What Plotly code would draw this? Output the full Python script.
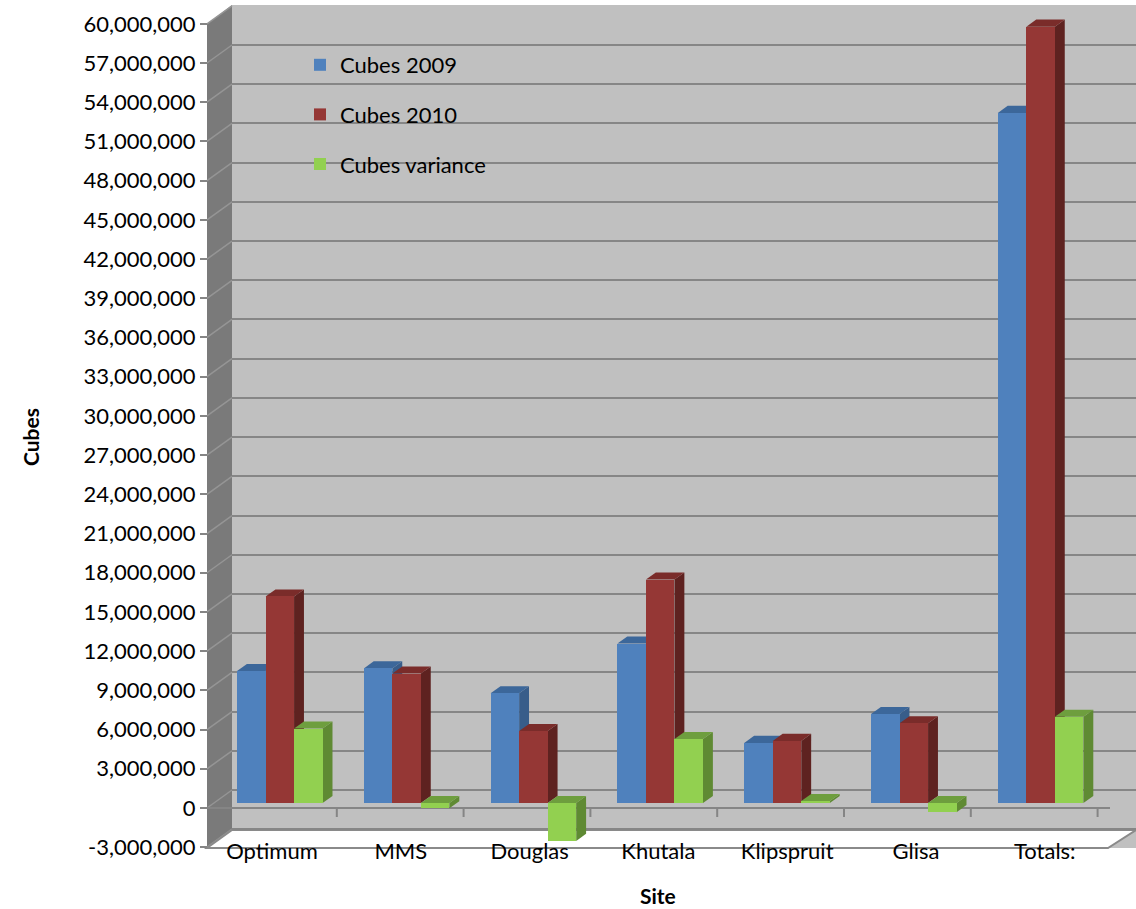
import plotly.graph_objects as go

# ---------------- data ----------------
sites = ["Optimum", "MMS", "Douglas", "Khutala", "Klipspruit", "Glisa", "Totals:"]
cubes_2009 = [10.1e6, 10.3e6, 8.4e6, 12.2e6, 4.6e6, 6.8e6, 52.8e6]
cubes_2010 = [15.8e6, 9.9e6, 5.5e6, 17.1e6, 4.75e6, 6.1e6, 59.4e6]
cubes_variance = [5.7e6, -0.4e6, -2.9e6, 4.9e6, 0.15e6, -0.7e6, 6.6e6]
y_ticks = list(range(-3_000_000, 60_000_001, 3_000_000))
y_tick_text = [f"{v:,}" for v in y_ticks]

# ---------------- geometry / style ----------------
W, H = 1136, 909
FONT = "Lato"
PX_PER_UNIT_Y = 13.07 / 1e6      # pixels per cube
PLOT_L, PLOT_R, PLOT_T, PLOT_B = 232, 1136, 5, 848
WALL_FRONT_X = 207
ZERO_FRONT, ZERO_BARS, ZERO_BACK = 808, 803, 790
CAT_X0, CAT_UNIT = 210, 126.8     # px of category boundary -0.5, px per category
LBL_X0, LBL_UNIT = 272, 128.8     # label centres
BAR_W = 0.225
OFFSETS = [-0.287, -0.062, 0.163]
DX, DY = 0.078, 0.54e6

series = [
    ("Cubes 2009", cubes_2009, "#4F81BD", "#385D8A", "#3C679A"),
    ("Cubes 2010", cubes_2010, "#953735", "#5E2220", "#7A2C2A"),
    ("Cubes variance", cubes_variance, "#92D050", "#5F8A33", "#6E9E3E"),
]

def px(x):
    return x / W

def py(y):
    return 1 - y / H

def yrange(zero_px):
    return [-(PLOT_B - zero_px) / PX_PER_UNIT_Y, (zero_px - PLOT_T) / PX_PER_UNIT_Y]

def xrange(x0, unit, zero_at):
    return [zero_at + (PLOT_L - x0) / unit, zero_at + (PLOT_R - x0) / unit]

fig = go.Figure()

shapes = []
# back wall
shapes.append(dict(type="rect", xref="paper", yref="paper", layer="below",
                   x0=px(PLOT_L), x1=px(PLOT_R), y0=py(PLOT_B), y1=py(PLOT_T),
                   fillcolor="#C0C0C0", line=dict(width=0)))
# left wall
shapes.append(dict(type="path", xref="paper", yref="paper", layer="below",
                   path=f"M{px(WALL_FRONT_X)},{py(24)} L{px(PLOT_L)},{py(PLOT_T)} "
                        f"L{px(PLOT_L)},{py(830)} L{px(WALL_FRONT_X)},{py(PLOT_B)} Z",
                   fillcolor="#7A7A7A", line=dict(width=0)))
# slanted grid lines on the left wall
for v in y_ticks:
    yf = ZERO_FRONT - v * PX_PER_UNIT_Y
    yb = ZERO_BACK - v * PX_PER_UNIT_Y
    shapes.append(dict(type="line", xref="paper", yref="paper", layer="below",
                       x0=px(WALL_FRONT_X), y0=py(yf), x1=px(PLOT_L), y1=py(yb),
                       line=dict(color="#959595", width=1.5)))
# floor
shapes.append(dict(type="path", xref="paper", yref="paper", layer="below",
                   path=f"M{px(WALL_FRONT_X)},{py(PLOT_B)} L{px(PLOT_L)},{py(830)} "
                        f"L{px(1136)},{py(830)} L{px(1108)},{py(PLOT_B)} Z",
                   fillcolor="#FFFFFF", line=dict(color="#8A8A8A", width=2)))
# front zero line
shapes.append(dict(type="line", xref="paper", yref="paper", layer="below",
                   x0=px(200), x1=px(1110), y0=py(ZERO_FRONT), y1=py(ZERO_FRONT),
                   line=dict(color="#858585", width=2)))
# category boundary ticks
for i in range(len(sites)):
    shapes.append(dict(type="line", xref="x", yref="paper", layer="below",
                       x0=i + 0.5, x1=i + 0.5, y0=py(ZERO_FRONT), y1=py(817),
                       line=dict(color="#858585", width=2)))

# 3D depth faces (side + top) for every bar
for k, (name, vals, front, side, top) in enumerate(series):
    for i, v in enumerate(vals):
        xl = i + OFFSETS[k]
        xr = xl + BAR_W
        t = max(v, 0)
        shapes.append(dict(type="path", xref="x", yref="y", layer="between",
                           path=f"M{xr},0 L{xr + DX},{DY} L{xr + DX},{v + DY} L{xr},{v} Z",
                           fillcolor=side, line=dict(width=0)))
        shapes.append(dict(type="path", xref="x", yref="y", layer="between",
                           path=f"M{xl},{t} L{xl + DX},{t + DY} L{xr + DX},{t + DY} L{xr},{t} Z",
                           fillcolor=top, line=dict(width=0)))

# front faces
for k, (name, vals, front, side, top) in enumerate(series):
    fig.add_trace(go.Bar(
        name=name, x=list(range(len(sites))), y=vals,
        offset=OFFSETS[k], width=BAR_W,
        marker=dict(color=front, line=dict(width=0)),
        legendgroup=name, hovertext=sites, hoverinfo="text+y",
    ))

# helper traces so that the overlay axes are drawn
fig.add_trace(go.Scatter(x=[None], y=[None], xaxis="x", yaxis="y2", showlegend=False, hoverinfo="skip"))
fig.add_trace(go.Scatter(x=[None], y=[None], xaxis="x", yaxis="y3", showlegend=False, hoverinfo="skip"))
fig.add_trace(go.Scatter(x=[None], y=[None], xaxis="x2", yaxis="y", showlegend=False, hoverinfo="skip"))

dom_x = [px(PLOT_L), 1]
dom_y = [py(PLOT_B), py(PLOT_T)]

fig.update_layout(
    width=W, height=H,
    autosize=False,
    margin=dict(l=0, r=0, t=0, b=0, pad=0, autoexpand=False),
    paper_bgcolor="white",
    plot_bgcolor="rgba(0,0,0,0)",
    font=dict(family=FONT, size=22, color="black"),
    barmode="overlay",
    bargap=0,
    shapes=shapes,
    xaxis=dict(domain=dom_x, range=xrange(CAT_X0, CAT_UNIT, -0.5), showgrid=False,
               zeroline=False, showticklabels=False, ticks="", fixedrange=True,
               automargin=False),
    xaxis2=dict(overlaying="x", anchor="free", position=py(836), side="bottom",
                range=xrange(LBL_X0, LBL_UNIT, 0.0), tickmode="array",
                tickvals=list(range(len(sites))), ticktext=sites, ticks="",
                showgrid=False, zeroline=False, showline=False, automargin=False,
                tickfont=dict(family=FONT, size=22, color="black")),
    yaxis=dict(domain=dom_y, range=yrange(ZERO_BARS), showgrid=False, zeroline=False,
               showticklabels=False, ticks="", fixedrange=True, automargin=False),
    yaxis2=dict(overlaying="y", anchor="free", position=px(WALL_FRONT_X), side="left",
                range=yrange(ZERO_FRONT), tickmode="array", tickvals=y_ticks,
                ticktext=y_tick_text, ticks="outside", ticklen=7, tickwidth=2,
                tickcolor="#858585", showgrid=False, zeroline=False, showline=False,
                automargin=False,
                tickfont=dict(family=FONT, size=22, color="black")),
    yaxis3=dict(overlaying="y", anchor="x", range=yrange(ZERO_BACK), tickmode="array",
                tickvals=y_ticks, showticklabels=False, ticks="", showgrid=True,
                gridcolor="#868686", gridwidth=2, zeroline=False, showline=False,
                automargin=False),
    legend=dict(x=px(300), y=py(44), xanchor="left", yanchor="top",
                bgcolor="rgba(0,0,0,0)", tracegroupgap=18,
                font=dict(family=FONT, size=22, color="black")),
    annotations=[
        dict(text="<b>Cubes</b>", x=px(30), y=py(437), xref="paper", yref="paper",
             xanchor="center", yanchor="middle",
             textangle=-90, showarrow=False, font=dict(family=FONT, size=21)),
        dict(text="<b>Site</b>", x=px(658), y=py(895), xref="paper", yref="paper",
             xanchor="center", yanchor="middle",
             showarrow=False, font=dict(family=FONT, size=21)),
    ],
)

fig.write_html("out.html")
